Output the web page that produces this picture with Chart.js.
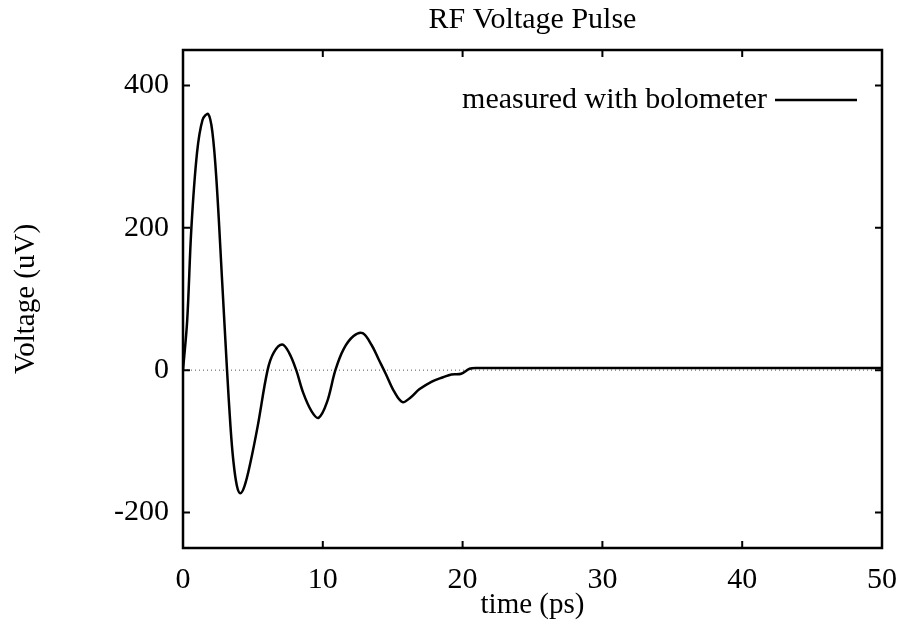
<!DOCTYPE html>
<html>
<head>
<meta charset="utf-8">
<title>RF Voltage Pulse</title>
<script src="https://cdn.jsdelivr.net/npm/chart.js@4"></script>
<style>
  html, body { margin: 0; padding: 0; background: #ffffff; }
  #wrap { width: 899px; height: 631px; }
</style>
</head>
<body>
<div id="wrap"><canvas id="pulse-chart" width="899" height="631"></canvas></div>
<script>
// ============= DATA =============

// time (ps)
const timePs = [0, 0.3, 0.6, 1.0, 1.4, 1.8, 2.1, 2.4, 2.8, 3.15, 3.4, 3.6, 3.85, 4.1, 4.4, 4.8, 5.35, 6.05,
  6.5, 7.1, 7.6, 8.1, 8.6, 9.2, 9.7, 10.3, 10.9, 11.5, 12.2, 12.85, 13.5, 14.0, 14.5, 15.1, 15.7,
  16.3, 16.9, 17.8, 18.6, 19.2, 19.9, 20.5, 21, 30, 40, 50];

// voltage (uV), measured with bolometer
const voltageUv = [0, 70, 200, 305, 352, 360, 335, 265, 125, 0, -80, -127, -162, -173, -163, -132, -78, 0,
  25, 36, 24, 0, -32, -58, -67, -45, 0, 30, 48, 52, 35, 15, -5, -30, -45,
  -38, -27, -16, -10, -6, -5, 2, 3, 3, 3, 3];

const xTickValues = [0, 10, 20, 30, 40, 50];
const yTickValues = [-200, 0, 200, 400];

const seriesLabel = 'measured with bolometer';
const serif = "'Liberation Serif', 'Times New Roman', serif";

// ============= PLUGINS =============

// dotted zero line (gnuplot style zeroaxis)
const zeroLinePlugin = {
  id: 'zeroLine',
  beforeDatasetsDraw(chart) {
    const { ctx, chartArea, scales } = chart;
    const y0 = scales.y.getPixelForValue(0);
    ctx.save();
    ctx.strokeStyle = '#555555';
    ctx.lineWidth = 1;
    ctx.setLineDash([1, 3]);
    ctx.beginPath();
    ctx.moveTo(chartArea.left, y0);
    ctx.lineTo(chartArea.right, y0);
    ctx.stroke();
    ctx.restore();
  }
};

// box round the plot with inward ticks on all four sides, plus the key inside
const frameAndKeyPlugin = {
  id: 'frameAndKey',
  afterDraw(chart) {
    const { ctx, chartArea, scales } = chart;
    const { left, right, top, bottom } = chartArea;
    const tickLen = 7;

    ctx.save();
    ctx.strokeStyle = '#000000';
    ctx.lineWidth = 2.5;
    ctx.strokeRect(left, top, right - left, bottom - top);

    ctx.lineWidth = 2;
    ctx.beginPath();
    xTickValues.forEach(v => {
      const px = scales.x.getPixelForValue(v);
      ctx.moveTo(px, bottom); ctx.lineTo(px, bottom - tickLen);
      ctx.moveTo(px, top); ctx.lineTo(px, top + tickLen);
    });
    yTickValues.forEach(v => {
      const py = scales.y.getPixelForValue(v);
      ctx.moveTo(left, py); ctx.lineTo(left + tickLen, py);
      ctx.moveTo(right, py); ctx.lineTo(right - tickLen, py);
    });
    ctx.stroke();

    // key: text right aligned, then a line sample
    const keyY = top + 50;
    ctx.font = '30px ' + serif;
    ctx.fillStyle = '#000000';
    ctx.textAlign = 'right';
    ctx.textBaseline = 'middle';
    ctx.fillText(chart.data.datasets[0].label, right - 115, keyY);
    ctx.lineWidth = 2.5;
    ctx.beginPath();
    ctx.moveTo(right - 107, keyY);
    ctx.lineTo(right - 25, keyY);
    ctx.stroke();
    ctx.restore();
  }
};

// ============= CHART =============

function buildPoints() {
  return timePs.map((t, i) => ({ x: t, y: voltageUv[i] }));
}

function initializeChart() {
  const ctx = document.getElementById('pulse-chart').getContext('2d');

  return new Chart(ctx, {
    type: 'line',
    data: {
      datasets: [{
        label: seriesLabel,
        data: buildPoints(),
        borderColor: '#000000',
        borderWidth: 2.5,
        pointRadius: 0,
        fill: false,
        tension: 0.35
      }]
    },
    options: {
      responsive: false,
      animation: false,
      layout: { padding: { left: 0, right: 17, top: 0, bottom: 0 } },
      plugins: {
        legend: { display: false }, // custom key drawn inside the box
        tooltip: { enabled: false },
        title: {
          display: true,
          text: 'RF Voltage Pulse',
          fullSize: false,
          color: '#000000',
          font: { family: serif, size: 30, weight: 'normal' },
          padding: { top: 2, bottom: 12 }
        }
      },
      scales: {
        x: {
          type: 'linear',
          min: 0,
          max: 50,
          afterFit: scale => {
            scale.height = 83;
            scale.paddingLeft = 0;
            scale.paddingRight = 0;
          },
          afterBuildTicks: scale => { scale.ticks = xTickValues.map(v => ({ value: v })); },
          grid: { display: false, drawTicks: false },
          border: { display: false },
          ticks: {
            color: '#000000',
            padding: 14,
            maxRotation: 0,
            font: { family: serif, size: 30 }
          },
          title: {
            display: true,
            text: 'time (ps)',
            color: '#000000',
            font: { family: serif, size: 29 },
            padding: { top: 0, bottom: 8 }
          }
        },
        y: {
          type: 'linear',
          min: -250,
          max: 450,
          afterFit: scale => {
            scale.width = 183;
            scale.paddingTop = 0;
            scale.paddingBottom = 0;
          },
          afterBuildTicks: scale => { scale.ticks = yTickValues.map(v => ({ value: v })); },
          grid: { display: false, drawTicks: false },
          border: { display: false },
          ticks: {
            color: '#000000',
            padding: 14,
            font: { family: serif, size: 30 }
          },
          title: {
            display: true,
            text: 'Voltage (uV)',
            color: '#000000',
            font: { family: serif, size: 29 },
            padding: { top: 9, bottom: 0 }
          }
        }
      }
    },
    plugins: [zeroLinePlugin, frameAndKeyPlugin]
  });
}

initializeChart();
</script>
</body>
</html>
